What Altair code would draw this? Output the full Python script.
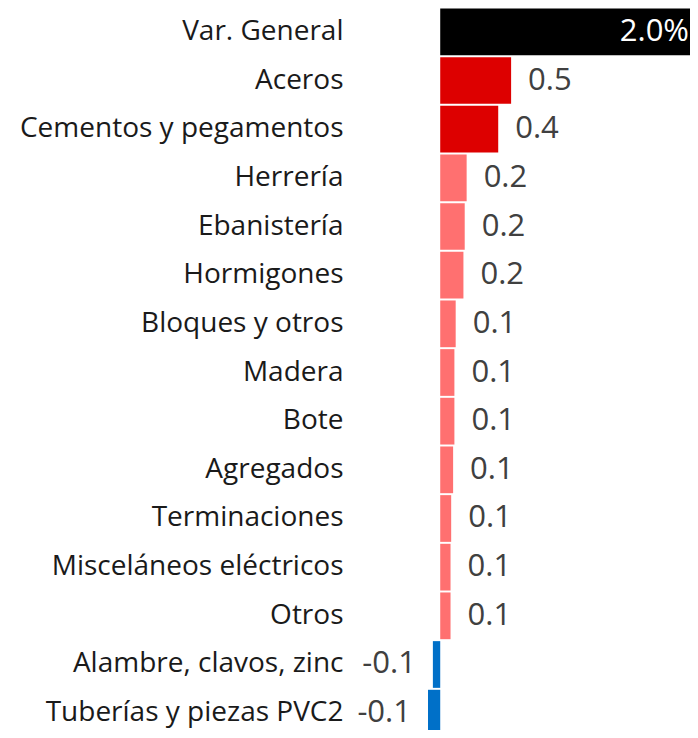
import altair as alt
import pandas as pd

categories = [
    "Var. General\u00a0\u00a0", "Aceros", "Cementos y pegamentos", "Herrería", "Ebanistería",
    "Hormigones", "Bloques y otros", "Madera", "Bote", "Agregados\u00a0",
    "Terminaciones", "Misceláneos eléctricos\u00a0", "Otros", "Alambre, clavos, zinc",
    "Tuberías y piezas PVC2",
]
values = [2.0, 0.55, 0.45, 0.205, 0.19, 0.18, 0.12, 0.11, 0.11, 0.10,
          0.085, 0.08, 0.08, -0.057, -0.095]
labels = ["2.0%", "0.5", "0.4", "0.2", "0.2", "0.2", "0.1", "0.1", "0.1", "0.1",
          "0.1", "0.1", "0.1", "-0.1", "-0.1"]
groups = ["general", "top", "top", "pos", "pos", "pos", "pos", "pos", "pos", "pos",
          "pos", "pos", "pos", "neg", "neg"]

group_domain = ["general", "top", "pos", "neg"]
group_colors = ["#000000", "#DD0000", "#FF7070", "#0070C8"]

df = pd.DataFrame({"cat": categories, "value": values, "label": labels, "grp": groups})

FONT = "Open Sans"

y_enc = alt.Y(
    "cat:N", sort=categories, title=None,
    scale=alt.Scale(paddingInner=0.04, paddingOuter=0.01, range=[0, 729]),
    axis=alt.Axis(domain=False, ticks=False, labelFontSize=28, labelFont=FONT,
                  labelColor="#1a1a1a", labelPadding=7, labelLimit=400, grid=False),
)
x_enc = alt.X("value:Q", axis=None,
              scale=alt.Scale(domain=[-0.7, 2.0], nice=False, zero=False, range=[0, 348]))

base = alt.Chart(df).encode(y=y_enc, x=x_enc)

bars = base.mark_bar().encode(
    color=alt.Color("grp:N", scale=alt.Scale(domain=group_domain, range=group_colors), legend=None)
)

pos_text = base.transform_filter("datum.grp == 'top' || datum.grp == 'pos'").mark_text(
    align="left", baseline="middle", dx=17, fontSize=31, font=FONT, color="#404040"
).encode(text="label:N")

neg_text = base.transform_filter("datum.grp == 'neg'").mark_text(
    align="right", baseline="middle", dx=-17, fontSize=31, font=FONT, color="#404040"
).encode(text="label:N")

gen_text = base.transform_filter("datum.grp == 'general'").mark_text(
    align="right", baseline="middle", dx=-9, fontSize=31, font=FONT, color="#ffffff"
).encode(text="label:N")

chart = (bars + pos_text + neg_text + gen_text).properties(
    width=340, height=722,
    autosize=alt.AutoSizeParams(type="none"),
    padding={"left": 342, "top": 0, "right": 0, "bottom": 0},
).configure_view(stroke=None)

chart.save("out.html", embed_options={"renderer": "svg", "actions": False})
